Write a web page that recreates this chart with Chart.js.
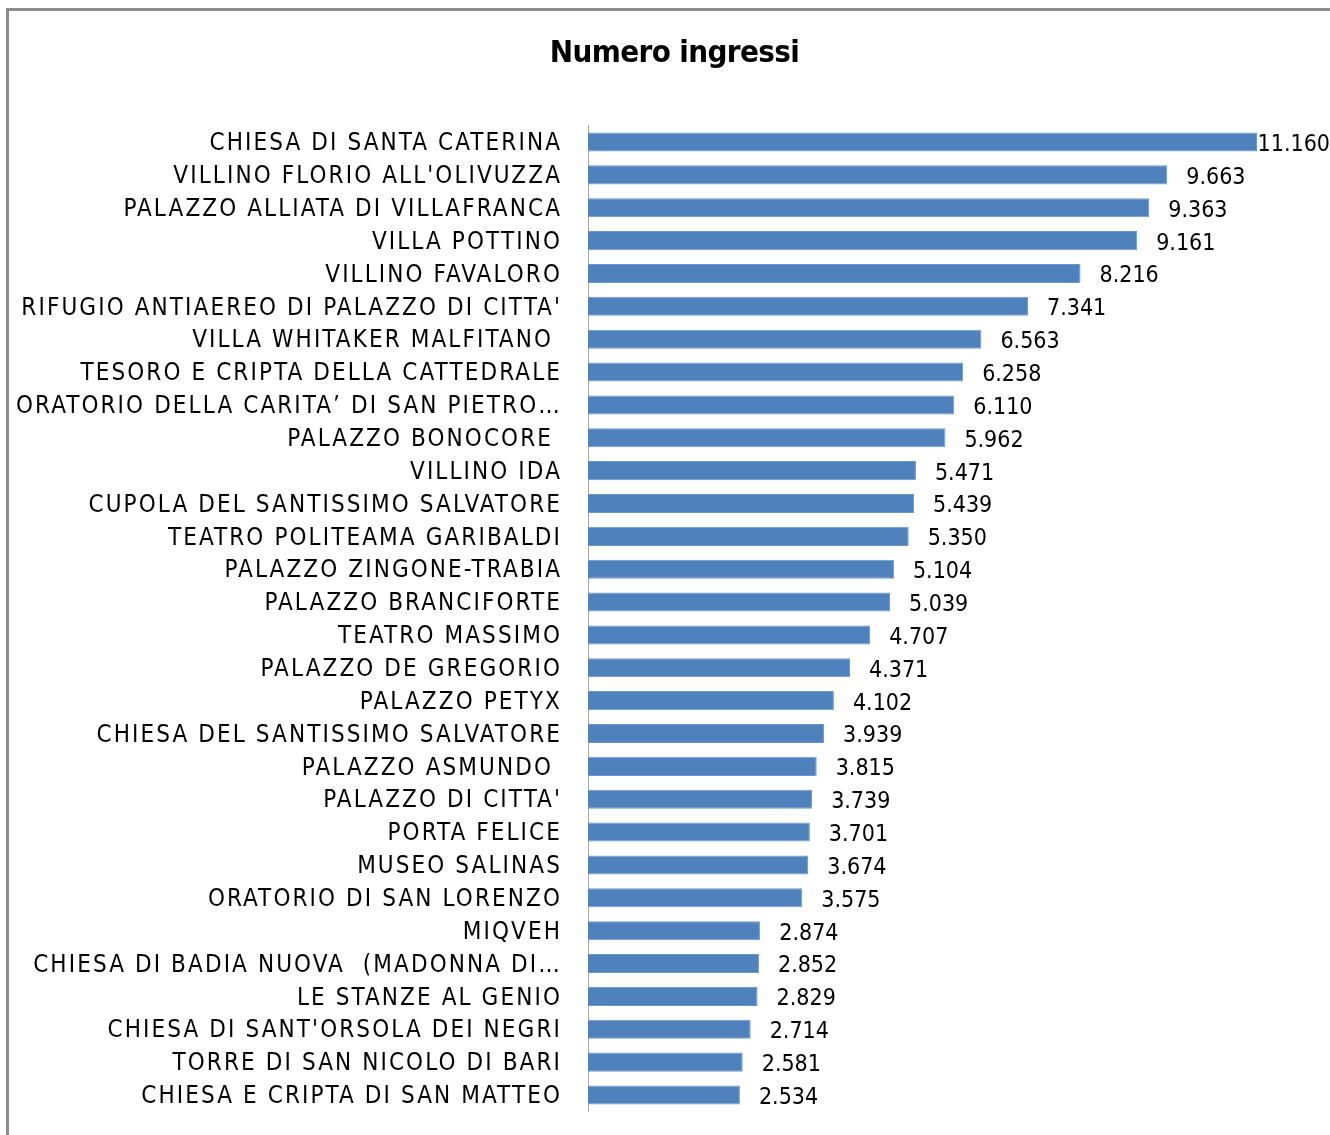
<!DOCTYPE html>
<html><head><meta charset="utf-8">
<script src="https://cdn.jsdelivr.net/npm/chart.js@4/dist/chart.umd.min.js"></script>
<style>
html,body{margin:0;padding:0;background:#fff;overflow:hidden;width:1330px;height:1135px;}
#frame{position:absolute;left:6px;top:8px;width:1340px;height:1140px;border-left:3px solid #8c8c8c;border-top:3px solid #8c8c8c;}
#wrap{position:absolute;left:9px;top:11px;width:1321px;height:1124px;}
</style></head><body>
<div id="frame"></div>
<div id="wrap"><canvas id="c"></canvas></div>
<script>
const chartTitle = 'Numero ingressi';
const categories = [
  "CHIESA DI SANTA CATERINA",
  "VILLINO FLORIO ALL'OLIVUZZA",
  "PALAZZO ALLIATA DI VILLAFRANCA",
  "VILLA POTTINO",
  "VILLINO FAVALORO",
  "RIFUGIO ANTIAEREO DI PALAZZO DI CITTA'",
  "VILLA WHITAKER MALFITANO ",
  "TESORO E CRIPTA DELLA CATTEDRALE",
  "ORATORIO DELLA CARITA’ DI SAN PIETRO…",
  "PALAZZO BONOCORE ",
  "VILLINO IDA",
  "CUPOLA DEL SANTISSIMO SALVATORE",
  "TEATRO POLITEAMA GARIBALDI",
  "PALAZZO ZINGONE-TRABIA",
  "PALAZZO BRANCIFORTE",
  "TEATRO MASSIMO",
  "PALAZZO DE GREGORIO",
  "PALAZZO PETYX",
  "CHIESA DEL SANTISSIMO SALVATORE",
  "PALAZZO ASMUNDO ",
  "PALAZZO DI CITTA'",
  "PORTA FELICE",
  "MUSEO SALINAS",
  "ORATORIO DI SAN LORENZO",
  "MIQVEH",
  "CHIESA DI BADIA NUOVA  (MADONNA DI…",
  "LE STANZE AL GENIO",
  "CHIESA DI SANT'ORSOLA DEI NEGRI",
  "TORRE DI SAN NICOLO DI BARI",
  "CHIESA E CRIPTA DI SAN MATTEO"
];
const visitors = [11160, 9663, 9363, 9161, 8216, 7341, 6563, 6258, 6110, 5962, 5471, 5439, 5350, 5104, 5039, 4707, 4371, 4102, 3939, 3815, 3739, 3701, 3674, 3575, 2874, 2852, 2829, 2714, 2581, 2534];
const xMin = 0;
const xMax = 12378;

const FONT = "'Liberation Sans Narrow', 'Arial Narrow', 'DejaVu Sans Condensed', sans-serif";
const LS = '2.1px';
const TITLE_LS = '-0.6px';

function fmt(v){ return String(v).replace(/\B(?=(\d{3})+(?!\d))/g, '.'); }

const spacingPlugin = {
  id: 'spacing',
  afterInit(c){
    const t = c.titleBlock;
    if (t && !t._wrapped) {
      const orig = t.draw.bind(t);
      t.draw = function(){
        const ctx = c.ctx;
        const prev = ctx.letterSpacing;
        ctx.save();
        ctx.translate(5, 2);
        ctx.letterSpacing = TITLE_LS;
        orig();
        ctx.restore();
        ctx.letterSpacing = prev;
      };
      t._wrapped = true;
    }
  },
  beforeLayout(c){ c.ctx.letterSpacing = LS; },
  beforeDraw(c){ c.ctx.letterSpacing = LS; }
};

const valueLabels = {
  id: 'valueLabels',
  afterDatasetsDraw(chart){
    const ctx = chart.ctx;
    const meta = chart.getDatasetMeta(0);
    ctx.save();
    ctx.letterSpacing = '0px';
    ctx.font = "23px " + FONT;
    ctx.fillStyle = '#000';
    ctx.textBaseline = 'middle';
    ctx.textAlign = 'left';
    meta.data.forEach((bar, i) => {
      const t = fmt(visitors[i]);
      const w = ctx.measureText(t).width;
      let x = bar.x + 19;
      if (x + w > chart.width) x = chart.width - w;
      ctx.fillText(t, x, bar.y + 3);
    });
    ctx.restore();
  }
};

new Chart(document.getElementById('c'), {
  type: 'bar',
  data: {
    labels: categories,
    datasets: [{
      data: visitors,
      backgroundColor: '#4f81bd',
      borderColor: '#6f97c9',
      borderWidth: 1,
      categoryPercentage: 1,
      barPercentage: 0.58
    }]
  },
  options: {
    indexAxis: 'y',
    responsive: true,
    maintainAspectRatio: false,
    animation: false,
    layout: { padding: { left: 0, right: 0, top: 0, bottom: 23.6 } },
    plugins: {
      legend: { display: false },
      tooltip: { enabled: false },
      title: {
        display: true,
        text: chartTitle,
        color: '#000',
        font: { family: FONT, size: 31, weight: 'bold', lineHeight: 1.2 },
        padding: { top: 22.4, bottom: 55 }
      }
    },
    scales: {
      x: { display: false, min: xMin, max: xMax },
      y: {
        afterFit(scale){ scale.width = 579; scale.paddingTop = 0; scale.paddingBottom = 0; },
        grid: { display: false, drawTicks: false },
        border: { display: true, color: '#a6a6a6', width: 1 },
        ticks: {
          autoSkip: false,
          color: '#000',
          padding: 26,
          labelOffset: 2,
          font: { family: FONT, size: 24 }
        }
      }
    }
  },
  plugins: [spacingPlugin, valueLabels]
});
</script>
</body></html>
